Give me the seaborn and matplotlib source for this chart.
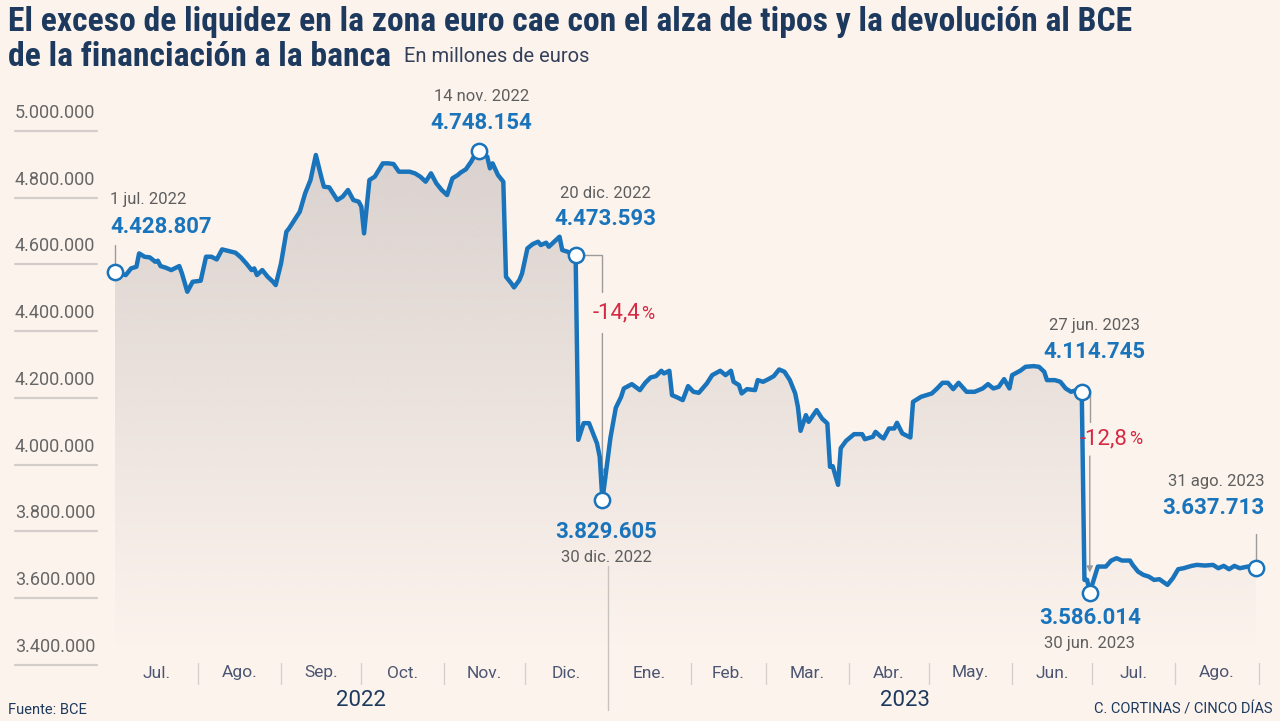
import numpy as np
import pandas as pd
import matplotlib
matplotlib.use("Agg")
import matplotlib.pyplot as plt
import matplotlib.dates as mdates
from matplotlib import font_manager
import seaborn as sns

# Datos: dias desde el 1 jul. 2022 y exceso de liquidez (millones de euros)
inicio = pd.Timestamp("2022-07-01")
dias = [0, 4, 6, 8, 9, 11, 13, 15, 16, 17, 19, 21, 24, 25, 27, 29, 32, 34, 36, 38,
        40, 42, 45, 47, 49, 51, 52, 53, 55, 57, 59, 60, 62, 64, 65, 67, 69, 71, 73, 75,
        77, 78, 80, 83, 85, 87, 89, 91, 92, 93, 95, 97, 100, 102, 104, 106, 110, 112, 114, 116,
        118, 120, 122, 124, 126, 128, 129, 131, 133, 134, 136, 139, 140, 141, 143, 145, 146, 148, 149, 151,
        152, 154, 156, 158, 159, 161, 162, 164, 166, 167, 169, 170, 172, 173, 175, 177, 179, 180, 181, 182,
        185, 187, 189, 190, 193, 196, 198, 200, 202, 204, 205, 207, 208, 210, 212, 214, 216, 218, 221, 223,
        226, 228, 230, 231, 233, 234, 236, 239, 240, 242, 244, 246, 248, 250, 252, 254, 255, 256, 258, 259,
        262, 264, 266, 267, 268, 270, 271, 273, 276, 279, 280, 283, 284, 286, 287, 289, 291, 292, 294, 297,
        298, 301, 303, 305, 307, 309, 311, 313, 315, 318, 321, 324, 326, 328, 330, 332, 334, 335, 338, 340,
        343, 345, 347, 348, 351, 353, 355, 357, 359, 361, 362, 363, 364, 367, 370, 372, 374, 376, 379, 380,
        382, 384, 386, 388, 390, 393, 395, 397, 399, 402, 404, 407, 410, 412, 414, 416, 418, 420, 423, 426]
liquidez = [4578000, 4568000, 4588000, 4593000, 4633000, 4623000, 4621000, 4608000, 4611000, 4595000,
            4590000, 4583000, 4595000, 4573000, 4518000, 4548000, 4551000, 4623000, 4623000, 4615000,
            4645000, 4641000, 4635000, 4621000, 4603000, 4583000, 4588000, 4568000, 4583000, 4563000,
            4548000, 4538000, 4603000, 4698000, 4708000, 4733000, 4758000, 4813000, 4853000, 4928000,
            4863000, 4833000, 4831000, 4793000, 4803000, 4823000, 4793000, 4788000, 4773000, 4693000,
            4853000, 4863000, 4903000, 4903000, 4901000, 4878000, 4878000, 4873000, 4863000, 4848000,
            4873000, 4843000, 4823000, 4808000, 4858000, 4868000, 4875000, 4885000, 4908000, 4923000,
            4941000, 4923000, 4888000, 4903000, 4868000, 4848000, 4563000, 4543000, 4531000, 4553000,
            4573000, 4648000, 4661000, 4668000, 4658000, 4665000, 4653000, 4668000, 4683000, 4643000,
            4638000, 4633000, 4628000, 4074000, 4124000, 4124000, 4083000, 4063000, 4023000, 3893000,
            4080000, 4170000, 4203000, 4228000, 4241000, 4223000, 4245000, 4261000, 4265000, 4281000,
            4273000, 4281000, 4208000, 4201000, 4193000, 4235000, 4218000, 4215000, 4243000, 4268000,
            4281000, 4268000, 4281000, 4248000, 4238000, 4213000, 4226000, 4223000, 4253000, 4248000,
            4256000, 4265000, 4285000, 4278000, 4253000, 4213000, 4173000, 4101000, 4148000, 4128000,
            4163000, 4138000, 4123000, 3993000, 3995000, 3939000, 4049000, 4071000, 4091000, 4091000,
            4076000, 4083000, 4098000, 4083000, 4078000, 4108000, 4108000, 4125000, 4093000, 4081000,
            4188000, 4203000, 4208000, 4213000, 4228000, 4245000, 4245000, 4226000, 4245000, 4218000,
            4218000, 4228000, 4241000, 4228000, 4233000, 4256000, 4228000, 4268000, 4281000, 4293000,
            4295000, 4293000, 4278000, 4253000, 4253000, 4248000, 4228000, 4218000, 4223000, 4218000,
            3654000, 3654000, 3616000, 3694000, 3694000, 3712000, 3719000, 3712000, 3712000, 3699000,
            3679000, 3669000, 3664000, 3654000, 3656000, 3639000, 3659000, 3686000, 3689000, 3696000,
            3699000, 3697000, 3699000, 3689000, 3696000, 3686000, 3696000, 3689000, 3694000, 3691000]

# Puntos destacados
dias_marca = [0, 136, 172, 182, 361, 364, 426]
etiquetas_valor = ["4.428.807", "4.748.154", "4.473.593", "3.829.605", "4.114.745", "3.586.014", "3.637.713"]
etiquetas_fecha = ["1 jul. 2022", "14 nov. 2022", "20 dic. 2022", "30 dic. 2022",
                   "27 jun. 2023", "30 jun. 2023", "31 ago. 2023"]
caidas = [(172, 182, "-14,4"), (361, 364, "-12,8")]

meses = ["Jul.", "Ago.", "Sep.", "Oct.", "Nov.", "Dic.", "Ene.", "Feb.", "Mar.", "Abr.",
         "May.", "Jun.", "Jul.", "Ago."]
anios = ["2022", "2023"]
anios_centro = ["2022-10-01", "2023-04-22"]
ticks_y = [5000000, 4800000, 4600000, 4400000, 4200000, 4000000, 3800000, 3600000, 3400000]

titulo1 = "El exceso de liquidez en la zona euro cae con el alza de tipos y la devolución al BCE"
titulo2 = "de la financiación a la banca"
subtitulo = "En millones de euros"

# colores
fondo = "#fcf3ed"
azul = "#1a74bb"
navy = "#1d3a5e"
gris = "#666666"
guia = "#9c9a9a"
rojo = "#d42a43"

sns.set_theme(style="white")
instaladas = {f.name for f in font_manager.fontManager.ttflist}
fuente_titulo = next((f for f in ["Roboto Condensed", "Liberation Sans Narrow", "DejaVu Sans Condensed"]
                      if f in instaladas), "Roboto")
plt.rcParams["font.family"] = ["Roboto", "DejaVu Sans"]

df = pd.DataFrame({"fecha": inicio + pd.to_timedelta(dias, unit="D"), "liquidez": liquidez})
xs = mdates.date2num(df["fecha"])

W, H = 1280, 721
fig = plt.figure(figsize=(W / 100, H / 100), dpi=100, facecolor=fondo)
ax = fig.add_axes([0, 0, 1, 1])
ax.set_facecolor(fondo)

# relleno degradado bajo la linea
poly = ax.fill_between(xs, df["liquidez"], 3400000, color="none", lw=0)
v = np.linspace(3400000, 5000000, 256)
alpha = np.clip((v - 3450000) / 1500000, 0, 1) * 0.85
img = np.zeros((256, 1, 4))
img[..., 0], img[..., 1], img[..., 2] = 0.835, 0.80, 0.79
img[..., 3] = alpha[:, None]
im = ax.imshow(img, extent=[xs[0], xs[-1], 3400000, 5000000], origin="lower",
               aspect="auto", interpolation="bilinear", zorder=2)
im.set_clip_path(poly.get_paths()[0], transform=ax.transData)

sns.lineplot(data=df, x="fecha", y="liquidez", ax=ax, color=azul, linewidth=3.2, zorder=5)

# escala: pixeles de la imagen
x0 = mdates.date2num(inicio)
px_dia = 2.678
px_val = 200000 / 66.7
ax.set_xlim(x0 - 115 / px_dia, x0 + (W - 115) / px_dia)
ax.set_ylim(5000000 - (H - 131) * px_val, 5000000 + 131 * px_val)
ax.set_axis_off()

# eje y: rayas cortas con etiqueta encima
ytr = ax.get_yaxis_transform()
for t in ticks_y:
    ax.plot([15 / W, 97 / W], [t, t], transform=ytr, color="#d3cdc9", lw=1.6, zorder=1)
    ax.annotate(f"{t:,}".replace(",", "."), xy=(95 / W, t), xycoords=ytr, xytext=(0, 18),
                textcoords="offset pixels", ha="right", va="center", fontsize=13, color=gris)

# eje x: meses y años
xtr = ax.get_xaxis_transform()
inicios = pd.date_range("2022-07-01", "2023-09-01", freq="MS")
for i, m in enumerate(meses):
    centro = inicios[i] + (inicios[i + 1] - inicios[i]) / 2
    ax.text(centro, 1 - 673 / H, m, transform=xtr, ha="center", va="center",
            fontsize=12.5, color="#4c5672")
for s in inicios[1:]:
    if s == pd.Timestamp("2023-01-01"):
        ax.plot([s, s], [1 - 566 / H, 1 - 710 / H], transform=xtr, color="#c9c3bf", lw=1)
    else:
        ax.plot([s, s], [1 - 663 / H, 1 - 684 / H], transform=xtr, color="#d6d0cc", lw=1)
for a, c in zip(anios, anios_centro):
    ax.text(pd.Timestamp(c), 1 - 700 / H, a, transform=xtr, ha="center", va="center",
            fontsize=16, color=navy)

# puntos destacados
val = dict(zip(dias, liquidez))
fechas_marca = [inicio + pd.Timedelta(days=d) for d in dias_marca]
vals_marca = [val[d] for d in dias_marca]
ax.plot(fechas_marca, vals_marca, "o", ms=11, mfc="white", mec=azul, mew=1.8, zorder=7)

# (alineacion, dx, dy fecha, dy valor, linea guia en pixeles)
posiciones = [("left", -5, 72, 45, (9, 27)),
              ("center", 2, 54, 28, None),
              ("center", 30, 62, 36, None),
              ("center", 4, -57, -32, None),
              ("center", 13, 66, 40, None),
              ("center", 0, -51, -25, None),
              ("right", 9, 86, 60, (9, 34))]
for f, vm, lv, lf, (ha, dx, dyf, dyv, g) in zip(fechas_marca, vals_marca, etiquetas_valor,
                                                 etiquetas_fecha, posiciones):
    ax.annotate(lf, xy=(f, vm), xytext=(dx, dyf), textcoords="offset pixels", ha=ha,
                va="center", fontsize=12, color="#5e5e5e", zorder=8)
    ax.annotate(lv, xy=(f, vm), xytext=(dx, dyv), textcoords="offset pixels", ha=ha,
                va="center", fontsize=16, fontweight="bold", color=azul, zorder=8)
    if g:
        ax.plot([f, f], [vm + g[0] * px_val, vm + g[1] * px_val], color=guia, lw=1, zorder=3)

# caidas con corchete y porcentaje
fig.canvas.draw()
for a, b, txt in caidas:
    fa, fb = inicio + pd.Timedelta(days=a), inicio + pd.Timedelta(days=b)
    va_, vb_ = val[a], val[b]
    ax.plot([fa, fb, fb], [va_, va_, va_ + (vb_ - va_) * 0.15], color=guia, lw=1, zorder=3)
    ax.annotate("", xy=(fb, va_ + (vb_ - va_) * 0.9), xytext=(fb, va_ + (vb_ - va_) * 0.32),
                arrowprops=dict(arrowstyle="-|>", color=guia, lw=1, mutation_scale=9,
                                shrinkA=0, shrinkB=0), zorder=3)
    yt = va_ + (vb_ - va_) * 0.26
    t = ax.annotate(txt, xy=(fb, yt), xytext=(-10, 0), textcoords="offset pixels",
                    ha="left", va="baseline", fontsize=16, color=rojo, zorder=8)
    ancho = t.get_window_extent(fig.canvas.get_renderer()).width
    ax.annotate("%", xy=(fb, yt), xytext=(-10 + ancho + 1, 0), textcoords="offset pixels",
                ha="left", va="baseline", fontsize=13, color=rojo, zorder=8)

# titulo
r = fig.canvas.get_renderer()
t1 = fig.text(8 / W, 1 - 22 / H, titulo1, fontsize=20, fontweight="bold", color=navy,
              va="center", family=[fuente_titulo, "DejaVu Sans"])
escala = 1120 / t1.get_window_extent(r).width
t1.set_fontsize(20 * escala)
t2 = fig.text(8 / W, 1 - 57 / H, titulo2, fontsize=20 * escala, fontweight="bold", color=navy,
              va="center", family=[fuente_titulo, "DejaVu Sans"])
fin2 = t2.get_window_extent(r).x1
fig.text((fin2 + 13) / W, 1 - 57 / H, subtitulo, fontsize=14.5, color="#34405a", va="center")

fig.text(8 / W, 1 - 710 / H, "Fuente: BCE", fontsize=10.5, color=navy, va="center")
fig.text(1272 / W, 1 - 710 / H, "C. CORTINAS / CINCO DÍAS", fontsize=10.5, color=navy,
         va="center", ha="right")

fig.savefig("out.png", dpi=100, facecolor=fondo)
